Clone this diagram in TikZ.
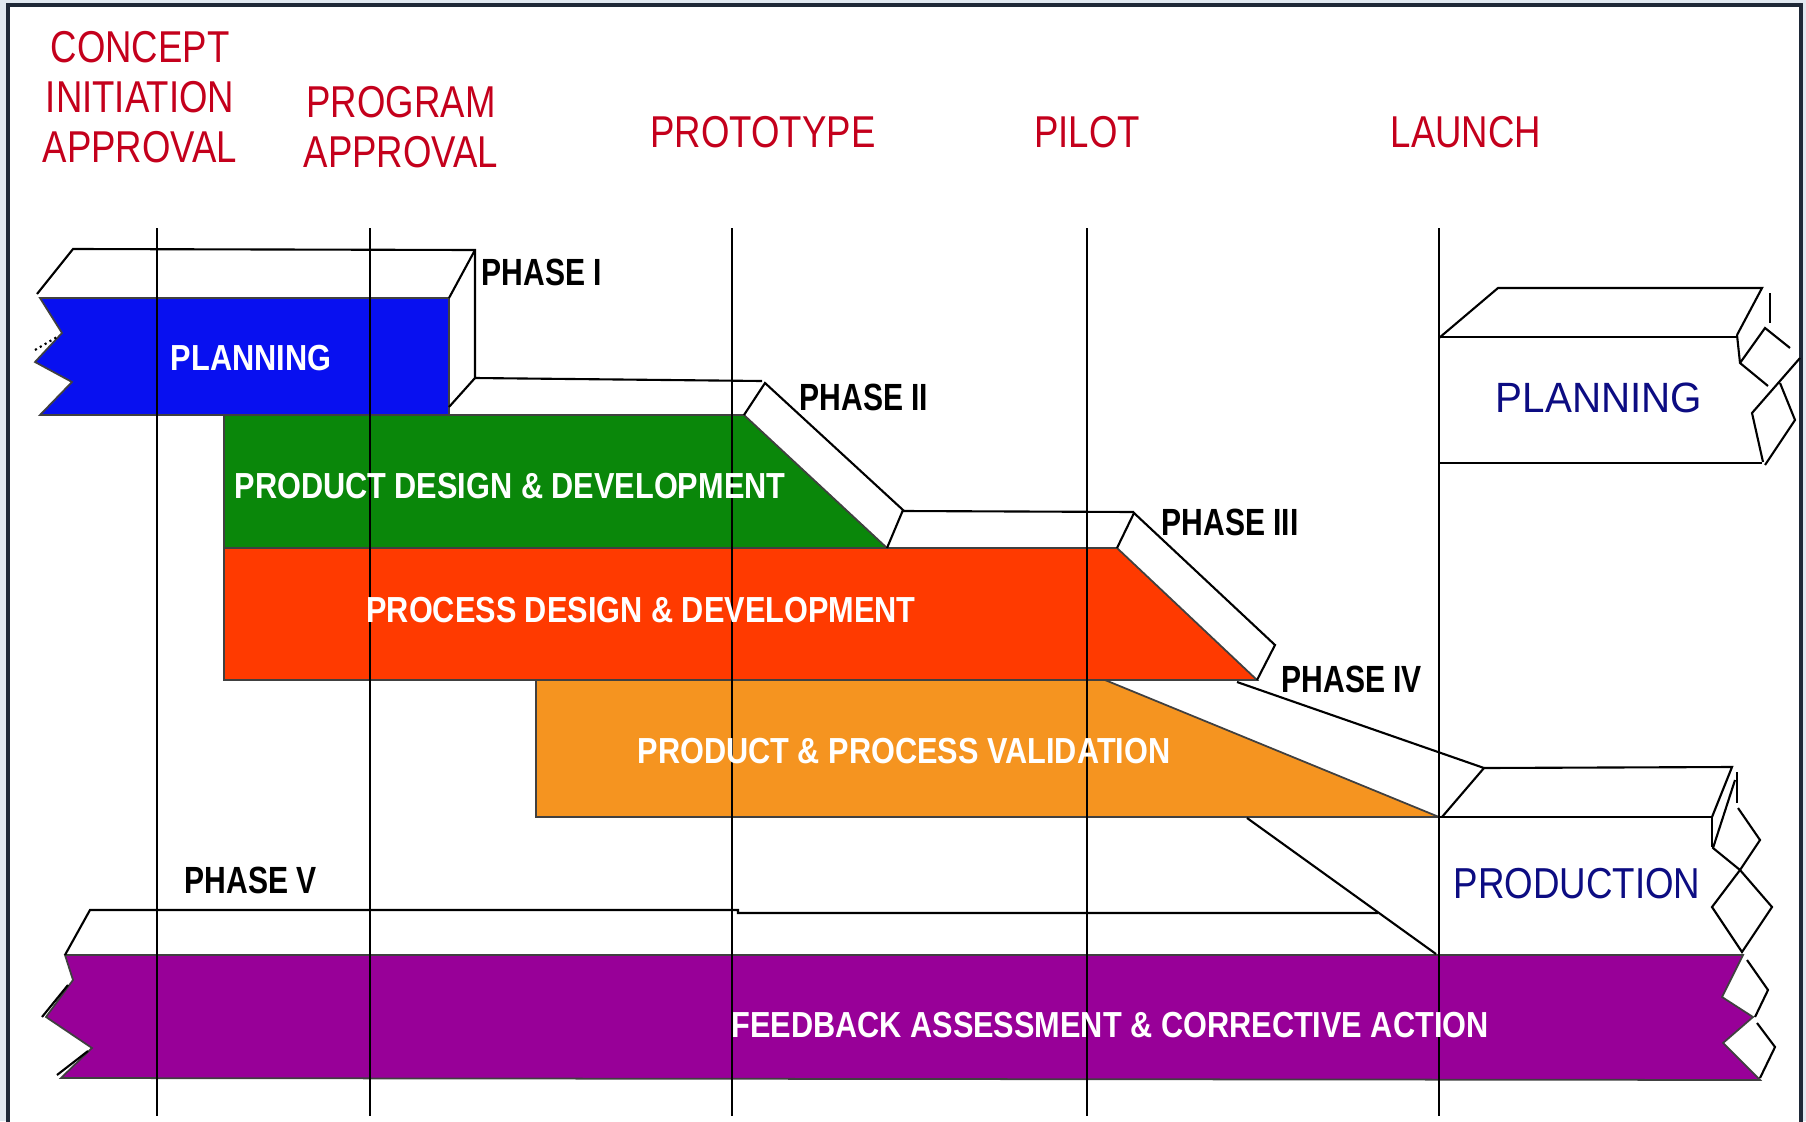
\documentclass[tikz,border=0pt]{standalone}
\usepackage{fontspec}
\setmainfont{Liberation Sans}

\definecolor{slide}{RGB}{224,232,240}
\definecolor{frameline}{RGB}{30,40,55}
\definecolor{planblue}{RGB}{8,16,240}
\definecolor{designgreen}{RGB}{10,135,10}
\definecolor{processred}{RGB}{255,58,0}
\definecolor{validorange}{RGB}{245,148,32}
\definecolor{feedpurple}{RGB}{152,0,152}
\definecolor{gatered}{RGB}{196,0,28}
\definecolor{navytext}{RGB}{12,12,130}

\begin{document}
\begin{tikzpicture}[x=0.01cm,y=-0.01cm]
            \tikzstyle{every node}=[inner sep=0pt, transform shape];
            \tikzstyle{gate}=[text=gatered, align=center, yscale=1.22, font=\fontsize{10.4}{11.7}\selectfont];
            \tikzstyle{phaselabel}=[anchor=base west, yscale=1.26, font=\fontsize{8.55}{10}\selectfont\bfseries];
            \tikzstyle{barlabel}=[anchor=base, text=white, yscale=1.18, font=\fontsize{8.73}{10}\selectfont\bfseries];
            \tikzstyle{afterlabel}=[anchor=base, text=navytext];
            \tikzstyle{bar}=[draw=black!75, line width=0.5pt];
            \tikzstyle{edge}=[line width=0.6pt];
            \useasboundingbox (0,0) rectangle (1806,1121);
            \fill[slide] (0,0) rectangle (1806,1121);
            \filldraw[fill=white, draw=frameline, line width=0.9pt] (8,5) rectangle (1801,1140);

            % coloured bars
            \filldraw[bar, fill=planblue] (40,298) -- (449,298) -- (449,415) -- (40,415)
                -- (72,382) -- (35,362) -- (62,333) -- cycle;
            \filldraw[bar, fill=validorange] (536,680) -- (1105,680) -- (1439,817) -- (536,817) -- cycle;
            \filldraw[bar, fill=designgreen] (224,415) -- (744,415) -- (887,548) -- (224,548) -- cycle;
            \filldraw[bar, fill=processred] (224,548) -- (1117,548) -- (1257,680) -- (224,680) -- cycle;
            \filldraw[bar, fill=feedpurple] (65,955) -- (1743,955) -- (1722,997) -- (1753,1017)
                -- (1723,1043) -- (1760,1080) -- (61,1078) -- (92,1048) -- (46,1017) -- (73,980) -- cycle;

            % the steps behind the bars
            \draw[edge] (37,294) -- (73,249) -- (475,250) -- (475,378) -- (762,381);
            \draw[edge] (449,298) -- (475,250);
            \draw[edge] (449,407) -- (475,378);
            \draw[edge, densely dotted] (35,350) -- (57,337);
            \draw[edge] (744,415) -- (765,383) -- (903,510) -- (887,548);
            \draw[edge] (903,511) -- (1134,512);
            \draw[edge] (1117,548) -- (1134,513) -- (1275,645) -- (1257,680);
            \draw[edge] (1237,682) -- (1484,768) -- (1442,817);
            \draw[edge] (1247,818) -- (1436,954);
            \draw[edge] (65,955) -- (90,910) -- (738,910) -- (738,913) -- (1378,913);
            \draw[edge] (68,985) -- (42,1017);
            \draw[edge] (88,1051) -- (57,1075);
            \draw[edge] (1747,960) -- (1768,990) -- (1755,1017);
            \draw[edge] (1757,1023) -- (1775,1047) -- (1760,1078);

            % planning after launch
            \draw[edge] (1439,338) -- (1498,288) -- (1762,288) -- (1737,335);
            \draw[edge] (1439,337) -- (1737,337);
            \draw[edge] (1770,293) -- (1770,323);
            \draw[edge] (1439,463) -- (1762,463);
            \draw[edge] (1737,335) -- (1740,363) -- (1768,386);
            \draw[edge] (1790,348) -- (1765,328) -- (1740,363);
            \draw[edge] (1800,358) -- (1752,413) -- (1763,462);
            \draw[edge] (1780,383) -- (1795,420) -- (1765,465);

            % production after launch
            \draw[edge] (1439,817) -- (1712,817) -- (1712,847);
            \draw[edge] (1484,768) -- (1732,767) -- (1712,817);
            \draw[edge] (1737,772) -- (1737,803);
            \draw[edge] (1735,780) -- (1713,848) -- (1740,870);
            \draw[edge] (1738,808) -- (1760,840) -- (1740,870);
            \draw[edge] (1740,870) -- (1712,907) -- (1742,952) -- (1772,907) -- cycle;

            % milestones
            \draw[edge] (157,228) -- (157,1116) (370,228) -- (370,1116) (732,228) -- (732,1116)
                (1087,228) -- (1087,1116) (1439,228) -- (1439,1116);

            \node[gate, anchor=north] (concept) at (140,30) {CONCEPT\\INITIATION\\APPROVAL};
            \node[gate, anchor=north] (program) at (401,85) {PROGRAM\\APPROVAL};
            \node[gate, anchor=base] (prototype) at (763,147) {PROTOTYPE};
            \node[gate, anchor=base] (pilot) at (1087,147) {PILOT};
            \node[gate, anchor=base] (launch) at (1466,147) {LAUNCH};

            \node[phaselabel] (phase1) at (481,285) {PHASE I};
            \node[phaselabel] (phase2) at (799,410) {PHASE II};
            \node[phaselabel] (phase3) at (1161,535) {PHASE III};
            \node[phaselabel] (phase4) at (1281,692) {PHASE IV};
            \node[phaselabel] (phase5) at (184,893) {PHASE V};

            \node[barlabel] (planning) at (251,370) {PLANNING};
            \node[barlabel] (design) at (510,498) {PRODUCT DESIGN \& DEVELOPMENT};
            \node[barlabel] (process) at (641,622) {PROCESS DESIGN \& DEVELOPMENT};
            \node[barlabel] (validation) at (904,763) {PRODUCT \& PROCESS VALIDATION};
            \node[barlabel] (feedback) at (1110,1037) {FEEDBACK ASSESSMENT \& CORRECTIVE ACTION};

            \node[afterlabel, yscale=1.05, font=\fontsize{11.47}{13}\selectfont] (nextplanning) at (1599,412) {PLANNING};
            \node[afterlabel, yscale=1.18, font=\fontsize{10.44}{12}\selectfont] (production) at (1577,898) {PRODUCTION};
        \end{tikzpicture}
\end{document}
